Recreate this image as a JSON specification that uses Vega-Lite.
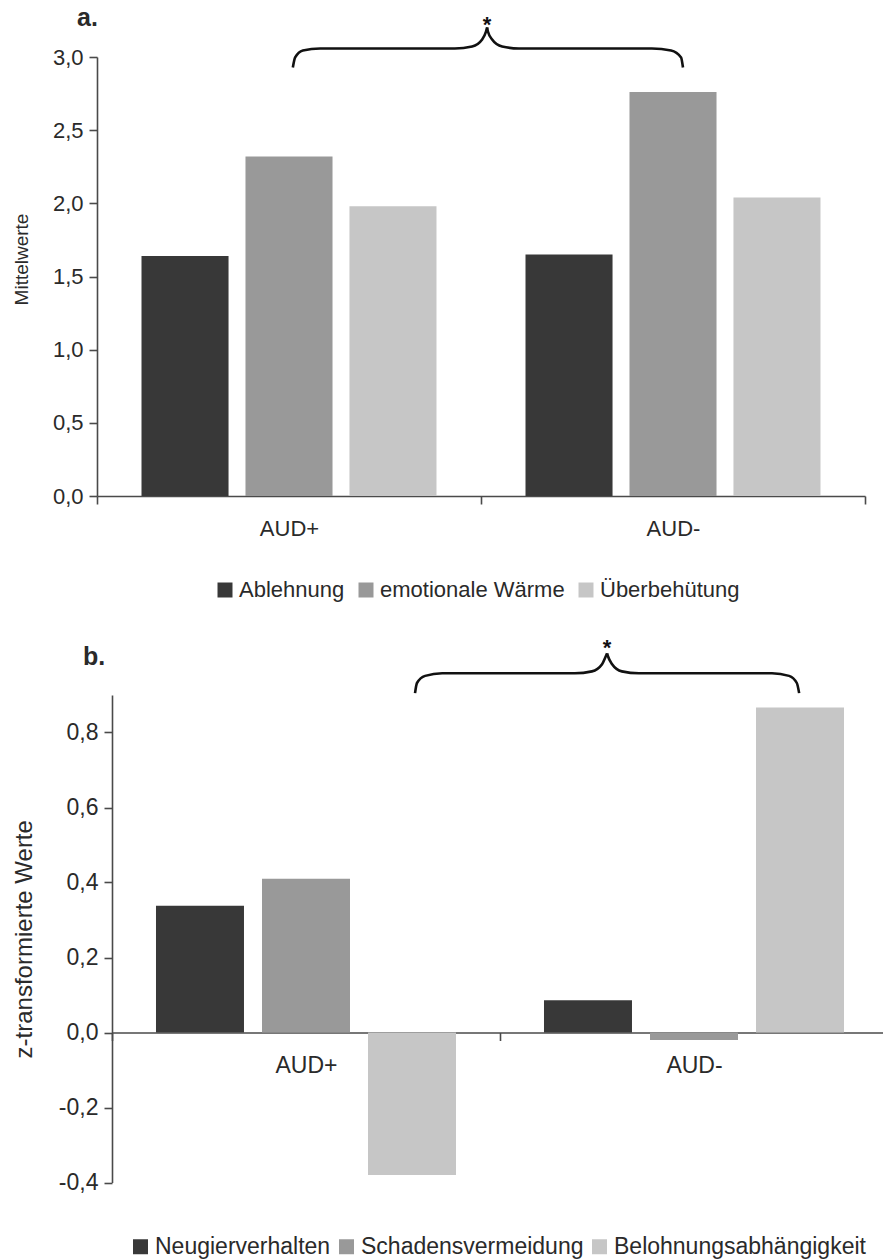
{
  "$schema": "https://vega.github.io/schema/vega-lite/v6.json",
  "background": "white",
  "padding": {"left": 12, "top": 6, "right": 0, "bottom": 0},
  "spacing": 36,
  "config": {
    "font": "Liberation Sans",
    "view": {"stroke": null},
    "axis": {"domainColor": "#4a4a4a", "tickColor": "#4a4a4a", "domainWidth": 1.6, "tickWidth": 1.6, "labelColor": "#2a2a2a", "titleColor": "#2a2a2a", "grid": false, "titleFontWeight": "normal", "labelFont": "Liberation Sans", "titleFont": "Liberation Sans"},
    "title": {"anchor": "start", "fontWeight": "bold", "fontSize": 25, "font": "Liberation Sans", "color": "#2a2a2a", "frame": "group"},
    "legend": {"symbolType": "square", "symbolSize": 225, "symbolStrokeWidth": 0, "labelFontSize": 22, "labelFont": "Liberation Sans", "labelColor": "#2a2a2a", "labelLimit": 600, "columnPadding": 10, "labelOffset": 3, "orient": "none", "direction": "horizontal"}
  },
  "resolve": {"scale": {"color": "independent", "x": "independent", "y": "independent", "xOffset": "independent"}, "legend": {"color": "independent"}},
  "vconcat": [
    {
      "title": {"text": "a.", "dx": -20, "offset": -17},
      "width": 768,
      "height": 439,
      "resolve": {"scale": {"x": "independent"}},
      "layer": [
        {
          "data": {"values": [
            {"gruppe": "AUD+", "skala": "Ablehnung", "wert": 1.64},
            {"gruppe": "AUD+", "skala": "emotionale Wärme", "wert": 2.32},
            {"gruppe": "AUD+", "skala": "Überbehütung", "wert": 1.98},
            {"gruppe": "AUD-", "skala": "Ablehnung", "wert": 1.65},
            {"gruppe": "AUD-", "skala": "emotionale Wärme", "wert": 2.76},
            {"gruppe": "AUD-", "skala": "Überbehütung", "wert": 2.04}
          ]},
          "mark": {"type": "bar"},
          "encoding": {
            "x": {"field": "gruppe", "type": "nominal", "sort": ["AUD+", "AUD-"], "scale": {"paddingInner": 0, "paddingOuter": 0},
                  "axis": {"title": null, "labelAngle": 0, "tickBand": "extent", "labelFontSize": 22, "labelPadding": 14, "tickSize": 8}},
            "xOffset": {"field": "skala", "type": "nominal", "sort": ["Ablehnung", "emotionale Wärme", "Überbehütung"], "scale": {"paddingInner": 0.163, "paddingOuter": 0.428}},
            "y": {"field": "wert", "type": "quantitative", "scale": {"domain": [0, 3], "nice": false},
                  "axis": {"title": "Mittelwerte", "titleFontSize": 19, "titlePadding": 21, "titleY": 202, "values": [0, 0.5, 1, 1.5, 2, 2.5, 3], "labelFontSize": 22, "labelPadding": 6, "tickSize": 8,
                           "labelExpr": "replace(replace(format(datum.value, '.1f'), '.', ','), '\u2212', '-')"}},
            "color": {"field": "skala", "type": "nominal", "sort": ["Ablehnung", "emotionale Wärme", "Überbehütung"],
                      "scale": {"domain": ["Ablehnung", "emotionale Wärme", "Überbehütung"], "range": ["#383838", "#999999", "#c6c6c6"]},
                      "legend": {"title": null, "legendX": 117, "legendY": 522}}
          }
        },
        {
          "data": {"values": [
            {"teil": "links", "pos": 0.510, "wert": 2.928},
            {"teil": "links", "pos": 0.516, "wert": 2.997},
            {"teil": "links", "pos": 0.536, "wert": 3.045},
            {"teil": "links", "pos": 0.581, "wert": 3.058},
            {"teil": "links", "pos": 0.932, "wert": 3.058},
            {"teil": "links", "pos": 0.977, "wert": 3.072},
            {"teil": "links", "pos": 1.003, "wert": 3.120},
            {"teil": "links", "pos": 1.013, "wert": 3.174},
            {"teil": "links", "pos": 1.016, "wert": 3.202},
            {"teil": "rechts", "pos": 1.016, "wert": 3.202},
            {"teil": "rechts", "pos": 1.018, "wert": 3.174},
            {"teil": "rechts", "pos": 1.029, "wert": 3.120},
            {"teil": "rechts", "pos": 1.055, "wert": 3.072},
            {"teil": "rechts", "pos": 1.099, "wert": 3.058},
            {"teil": "rechts", "pos": 1.445, "wert": 3.058},
            {"teil": "rechts", "pos": 1.495, "wert": 3.045},
            {"teil": "rechts", "pos": 1.521, "wert": 2.997},
            {"teil": "rechts", "pos": 1.526, "wert": 2.928}
          ]},
          "mark": {"type": "line", "interpolate": "monotone", "color": "#111111", "strokeWidth": 2.6, "clip": false},
          "encoding": {
            "x": {"field": "pos", "type": "quantitative", "scale": {"domain": [0, 2], "nice": false, "zero": false}, "axis": null},
            "y": {"field": "wert", "type": "quantitative",
                  "axis": {"title": "Mittelwerte", "titleFontSize": 19, "titlePadding": 21, "titleY": 202, "values": [0, 0.5, 1, 1.5, 2, 2.5, 3], "labelFontSize": 22, "labelPadding": 6, "tickSize": 8,
                           "labelExpr": "replace(replace(format(datum.value, '.1f'), '.', ','), '\u2212', '-')"}},
            "detail": {"field": "teil", "type": "nominal"}
          }
        },
        {
          "data": {"values": [{"pos": 1.016, "wert": 3.25, "zeichen": "*"}]},
          "mark": {"type": "text", "fontSize": 22, "fontWeight": "bold", "color": "#111111", "baseline": "middle", "dy": 5, "clip": false},
          "encoding": {
            "x": {"field": "pos", "type": "quantitative", "scale": {"domain": [0, 2], "nice": false, "zero": false}, "axis": null},
            "y": {"field": "wert", "type": "quantitative",
                  "axis": {"title": "Mittelwerte", "titleFontSize": 19, "titlePadding": 21, "titleY": 202, "values": [0, 0.5, 1, 1.5, 2, 2.5, 3], "labelFontSize": 22, "labelPadding": 6, "tickSize": 8,
                           "labelExpr": "replace(replace(format(datum.value, '.1f'), '.', ','), '\u2212', '-')"}},
            "text": {"field": "zeichen"}
          }
        }
      ]
    },
    {
      "title": {"text": "b.", "dx": -14, "offset": -33},
      "width": 791,
      "height": 487.5,
      "resolve": {"scale": {"x": "independent"}},
      "layer": [
        {
          "data": {"values": [
            {"gruppe": "AUD+", "skala": "Neugierverhalten", "wert": 0.338},
            {"gruppe": "AUD+", "skala": "Schadensvermeidung", "wert": 0.41},
            {"gruppe": "AUD+", "skala": "Belohnungsabhängigkeit", "wert": -0.38},
            {"gruppe": "AUD-", "skala": "Neugierverhalten", "wert": 0.086},
            {"gruppe": "AUD-", "skala": "Schadensvermeidung", "wert": -0.02},
            {"gruppe": "AUD-", "skala": "Belohnungsabhängigkeit", "wert": 0.867}
          ]},
          "mark": {"type": "bar"},
          "encoding": {
            "x": {"field": "gruppe", "type": "nominal", "sort": ["AUD+", "AUD-"], "scale": {"paddingInner": 0, "paddingOuter": 0, "range": [15, 791]},
                  "axis": {"title": null, "labelAngle": 0, "tickBand": "extent", "labelFontSize": 23, "labelPadding": 14, "tickSize": 8, "offset": -150}},
            "xOffset": {"field": "skala", "type": "nominal", "sort": ["Neugierverhalten", "Schadensvermeidung", "Belohnungsabhängigkeit"], "scale": {"paddingInner": 0.17, "paddingOuter": 0.415}},
            "y": {"field": "wert", "type": "quantitative", "scale": {"domain": [-0.4, 0.9], "nice": false},
                  "axis": {"title": "z-transformierte Werte", "titleFontSize": 24, "titlePadding": 22, "offset": -15, "values": [-0.4, -0.2, 0, 0.2, 0.4, 0.6, 0.8], "labelFontSize": 23, "labelPadding": 6, "tickSize": 8,
                           "labelExpr": "replace(replace(format(datum.value, '.1f'), '.', ','), '\u2212', '-')"}},
            "color": {"field": "skala", "type": "nominal", "sort": ["Neugierverhalten", "Schadensvermeidung", "Belohnungsabhängigkeit"],
                      "scale": {"domain": ["Neugierverhalten", "Schadensvermeidung", "Belohnungsabhängigkeit"], "range": ["#383838", "#999999", "#c6c6c6"]},
                      "legend": {"title": null, "legendX": 32, "legendY": 540, "labelFontSize": 23, "columnPadding": 4}}
          }
        },
        {
          "data": {"values": [
            {"teil": "links", "pos": 0.781, "wert": 0.905},
            {"teil": "links", "pos": 0.786, "wert": 0.932},
            {"teil": "links", "pos": 0.807, "wert": 0.951},
            {"teil": "links", "pos": 0.851, "wert": 0.958},
            {"teil": "links", "pos": 1.193, "wert": 0.958},
            {"teil": "links", "pos": 1.237, "wert": 0.963},
            {"teil": "links", "pos": 1.263, "wert": 0.982},
            {"teil": "links", "pos": 1.273, "wert": 1.004},
            {"teil": "links", "pos": 1.276, "wert": 1.011},
            {"teil": "rechts", "pos": 1.276, "wert": 1.011},
            {"teil": "rechts", "pos": 1.278, "wert": 1.004},
            {"teil": "rechts", "pos": 1.289, "wert": 0.982},
            {"teil": "rechts", "pos": 1.314, "wert": 0.963},
            {"teil": "rechts", "pos": 1.358, "wert": 0.958},
            {"teil": "rechts", "pos": 1.701, "wert": 0.958},
            {"teil": "rechts", "pos": 1.745, "wert": 0.951},
            {"teil": "rechts", "pos": 1.765, "wert": 0.932},
            {"teil": "rechts", "pos": 1.771, "wert": 0.905}
          ]},
          "mark": {"type": "line", "interpolate": "monotone", "color": "#111111", "strokeWidth": 2.6, "clip": false},
          "encoding": {
            "x": {"field": "pos", "type": "quantitative", "scale": {"domain": [0, 2], "nice": false, "zero": false, "range": [15, 791]}, "axis": null},
            "y": {"field": "wert", "type": "quantitative",
                  "axis": {"title": "z-transformierte Werte", "titleFontSize": 24, "titlePadding": 22, "offset": -15, "values": [-0.4, -0.2, 0, 0.2, 0.4, 0.6, 0.8], "labelFontSize": 23, "labelPadding": 6, "tickSize": 8,
                           "labelExpr": "replace(replace(format(datum.value, '.1f'), '.', ','), '\u2212', '-')"}},
            "detail": {"field": "teil", "type": "nominal"}
          }
        },
        {
          "data": {"values": [{"pos": 1.276, "wert": 1.038, "zeichen": "*"}]},
          "mark": {"type": "text", "fontSize": 22, "fontWeight": "bold", "color": "#111111", "baseline": "middle", "dy": 5, "clip": false},
          "encoding": {
            "x": {"field": "pos", "type": "quantitative", "scale": {"domain": [0, 2], "nice": false, "zero": false, "range": [15, 791]}, "axis": null},
            "y": {"field": "wert", "type": "quantitative",
                  "axis": {"title": "z-transformierte Werte", "titleFontSize": 24, "titlePadding": 22, "offset": -15, "values": [-0.4, -0.2, 0, 0.2, 0.4, 0.6, 0.8], "labelFontSize": 23, "labelPadding": 6, "tickSize": 8,
                           "labelExpr": "replace(replace(format(datum.value, '.1f'), '.', ','), '\u2212', '-')"}},
            "text": {"field": "zeichen"}
          }
        }
      ]
    }
  ]
}
